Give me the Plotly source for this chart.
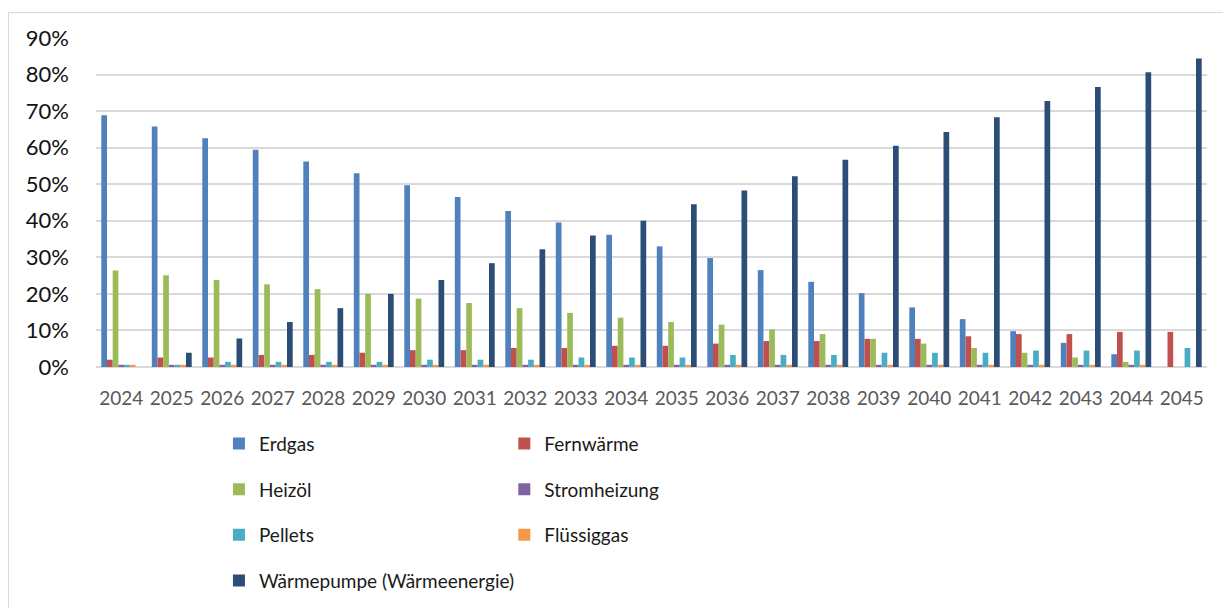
import plotly.graph_objects as go

years = [str(y) for y in range(2024, 2046)]

erdgas = [68.9, 65.8, 62.6, 59.4, 56.2, 53.0, 49.7, 46.5, 42.7, 39.5, 36.2, 33.0, 29.8, 26.5, 23.3, 20.2, 16.3, 13.1, 9.8, 6.6, 3.5, 0.0]
fernwaerme = [2.0, 2.6, 2.6, 3.3, 3.3, 3.9, 4.6, 4.6, 5.2, 5.2, 5.8, 5.8, 6.4, 7.1, 7.1, 7.7, 7.7, 8.4, 9.0, 9.0, 9.6, 9.6]
heizoel = [26.4, 25.1, 23.8, 22.6, 21.3, 20.0, 18.7, 17.5, 16.1, 14.8, 13.5, 12.3, 11.6, 10.3, 9.0, 7.7, 6.4, 5.2, 3.9, 2.6, 1.4, 0.0]
stromheizung = [0.6] * 21 + [0.0]
pellets = [0.6, 0.6, 1.4, 1.4, 1.4, 1.4, 2.0, 2.0, 2.0, 2.6, 2.6, 2.6, 3.3, 3.3, 3.3, 3.9, 3.9, 3.9, 4.5, 4.5, 4.5, 5.2]
fluessiggas = [0.6] * 21 + [0.0]
waermepumpe = [0.0, 3.9, 7.8, 12.3, 16.1, 20.0, 23.8, 28.4, 32.2, 36.0, 40.0, 44.5, 48.3, 52.2, 56.7, 60.5, 64.3, 68.3, 72.8, 76.6, 80.6, 84.4]

series_names = ["Erdgas", "Fernwärme", "Heizöl", "Stromheizung", "Pellets", "Flüssiggas", "Wärmepumpe (Wärmeenergie)"]
series_values = [erdgas, fernwaerme, heizoel, stromheizung, pellets, fluessiggas, waermepumpe]
series_colors = ["#4f81bd", "#c0504d", "#9bbb59", "#8064a2", "#4bacc6", "#f79646", "#2c4d75"]
series_legend = ["legend", "legend2", "legend", "legend2", "legend", "legend2", "legend"]

FONT = "Lato, 'Open Sans', sans-serif"

fig = go.Figure()
for name, vals, col, lg in zip(series_names, series_values, series_colors, series_legend):
    fig.add_trace(go.Bar(
        x=years, y=[v / 100 for v in vals], name=name,
        marker=dict(color=col, line=dict(width=0)),
        legend=lg, legendgroup=name,
    ))

# figure is placed at (8, 8) in the page; geometry below is in figure px
FW, FH = 1223, 600
OFF = 8
L, T = 96 - OFF, 37.7 - OFF
W, H = 1111.5, 329.6
R = FW - L - W
B = FH - T - H

def px_x(p):  # screen px -> paper
    return (p - OFF - L) / W

def px_y(p):
    return (T + H - (p - OFF)) / H

legend_common = dict(
    font=dict(family=FONT, size=19, color="#1a1a1a"),
    bgcolor="rgba(0,0,0,0)", borderwidth=0,
    orientation="v", tracegroupgap=18, traceorder="grouped",
    xanchor="left", yanchor="top",
)

fig.update_layout(
    width=FW, height=FH,
    margin=dict(l=L, r=R, t=T, b=B, autoexpand=False),
    paper_bgcolor="white", plot_bgcolor="white",
    barmode="group", bargap=0.21, bargroupgap=0,
    font=dict(family=FONT),
    showlegend=True,
    legend=dict(x=px_x(219), y=px_y(425), **legend_common),
    legend2=dict(x=px_x(504.5), y=px_y(425), **legend_common),
    xaxis=dict(
        type="category", range=[-0.5, 21.5],
        showgrid=False, showline=False, zeroline=False,
        ticks="", tickfont=dict(family=FONT, size=19, color="#595959"),
        ticklabelstandoff=18,
    ),
    yaxis=dict(
        range=[0, 0.9], dtick=0.1, tickformat=".0%",
        showgrid=True, gridcolor="#d9d9d9", gridwidth=1.5,
        zeroline=True, zerolinecolor="#d9d9d9", zerolinewidth=1.5,
        showline=False, ticks="",
        tickfont=dict(family=FONT, size=22, color="#111111"),
        ticklabelstandoff=26,
    ),
    shapes=[dict(
        type="rect", xref="paper", yref="paper",
        x0=px_x(8.5), x1=px_x(1260), y0=px_y(640), y1=px_y(12.3),
        line=dict(color="#d9d9d9", width=1), fillcolor="rgba(0,0,0,0)",
        layer="below",
    )],
)

fig.write_html("out.html")
